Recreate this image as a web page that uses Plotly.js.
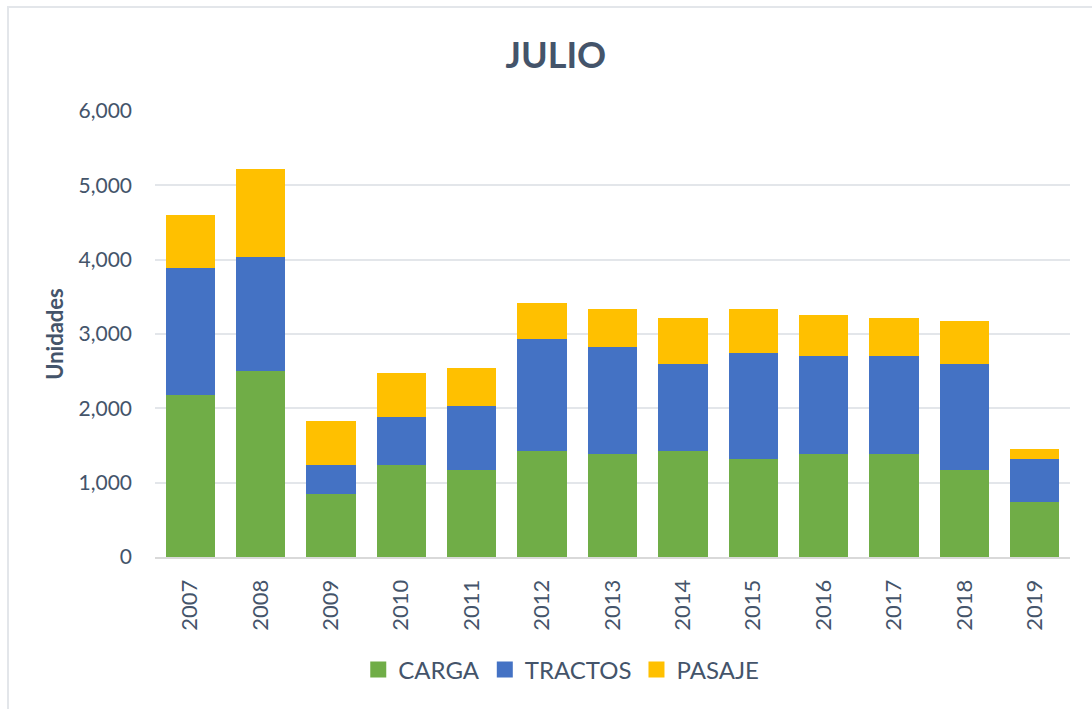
<!DOCTYPE html>
<html>
<head>
<meta charset="utf-8">
<script src="https://cdn.plot.ly/plotly-3.0.1.min.js"></script>
<style>
  html, body { margin: 0; padding: 0; background: #fff; overflow: hidden; }
  #frame { position: absolute; left: 7px; top: 6px; width: 1100px; height: 720px; border: 2px solid #E3E6EA; box-sizing: border-box; pointer-events: none; }
  #chart { width: 1092px; height: 709px; }
</style>
</head>
<body>
<div id="chart"></div>
<div id="frame"></div>
<script>
const years = ['2007','2008','2009','2010','2011','2012','2013','2014','2015','2016','2017','2018','2019'];
const carga   = [2175, 2500, 850, 1235, 1170, 1420, 1380, 1420, 1315, 1380, 1380, 1170, 740];
const tractos = [1715, 1530, 385, 645, 860, 1510, 1440, 1180, 1425, 1330, 1330, 1430, 575];
const pasaje  = [710, 1190, 590, 590, 510, 490, 510, 610, 590, 550, 500, 570, 135];
const seriesNames = ['CARGA', 'TRACTOS', 'PASAJE'];
const seriesColors = ['#70AD47', '#4472C4', '#FFC000'];
const yTicks = [0, 1000, 2000, 3000, 4000, 5000, 6000];

const textColor = '#44546A';
const fontFam = 'Lato, "Open Sans", sans-serif';

const values = [carga, tractos, pasaje];
const traces = [];
values.forEach((v, i) => {
  traces.push({ name: seriesNames[i], x: years, y: v, type: 'bar',
    marker: { color: seriesColors[i] }, showlegend: false, legendgroup: seriesNames[i] });
});
// legend entries (square swatches)
seriesNames.forEach((n, i) => {
  traces.push({ name: n, x: [null], y: [null], type: 'scatter', mode: 'markers',
    marker: { symbol: 'square', size: 17, color: seriesColors[i] }, legendgroup: n, showlegend: true });
});

const layout = {
  width: 1092, height: 709,
  barmode: 'stack',
  bargap: 0.30,
  paper_bgcolor: '#fff', plot_bgcolor: '#fff',
  margin: { l: 155, r: 22, t: 111, b: 152 },
  font: { family: fontFam, color: textColor },
  title: { text: '<b>JULIO</b>', x: 0.509, xanchor: 'center', y: 0.922, yanchor: 'middle',
           font: { size: 36, color: textColor, family: fontFam } },
  xaxis: {
    type: 'category', tickangle: -90,
    tickfont: { size: 22, color: textColor },
    showgrid: false, showline: true, linecolor: '#D9D9D9', linewidth: 2,
    ticks: '', ticklabelstandoff: 12
  },
  yaxis: {
    range: [0, 6000], tickvals: yTicks, tickformat: ',d',
    tickfont: { size: 21, color: textColor },
    showgrid: true, gridcolor: '#E3E6EA', gridwidth: 2,
    zeroline: false, showline: false, ticks: '', ticklabelstandoff: 22,
    title: { text: '<b>Unidades</b>', font: { size: 22, color: textColor }, standoff: 8 }
  },
  legend: {
    orientation: 'h', x: 0.444, xanchor: 'center', y: -0.253, yanchor: 'middle',
    font: { size: 24, color: textColor }, traceorder: 'normal',
    itemwidth: 30, itemsizing: 'trace'
  },
  showlegend: true
};

Plotly.newPlot('chart', traces, layout, { displayModeBar: false, staticPlot: true });
</script>
</body>
</html>
